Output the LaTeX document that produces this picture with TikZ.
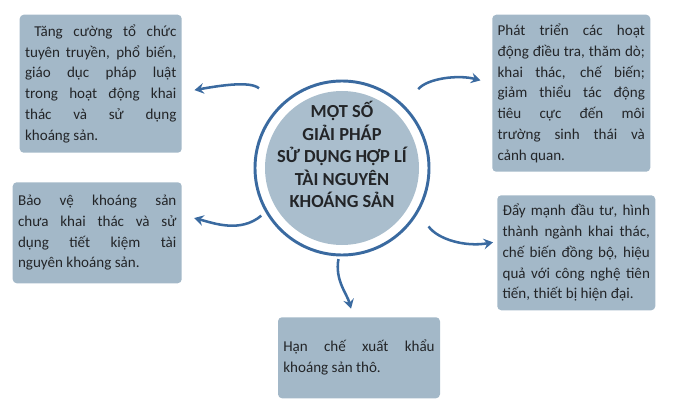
\documentclass[tikz,border=0pt]{standalone}
\usepackage{fontspec}
\setmainfont{Carlito}
\usetikzlibrary{arrows.meta, positioning}

\definecolor{boxfill}{RGB}{163,184,200}
\definecolor{hubfill}{RGB}{170,190,205}
\definecolor{ringblue}{RGB}{58,106,160}
\definecolor{textgray}{RGB}{35,37,40}

\begin{document}
\begin{tikzpicture}[font=\fontsize{11.3}{15.6}\selectfont, text=textgray]

% Styles
        \tikzstyle{box}=[rectangle, fill=boxfill, rounded corners=3pt, inner xsep=4pt, inner ysep=0pt, align=justify]
        \tikzstyle{hub}=[circle, fill=hubfill, minimum size=115.5pt, inner sep=0pt]
        \tikzstyle{ring}=[circle, draw=ringblue, line width=2.2pt, minimum size=130.5pt, inner sep=0pt]
        \tikzstyle{hubtitle}=[align=center, font=\fontsize{13.8}{16.9}\selectfont\bfseries]
        \tikzstyle{arrow}=[-{Stealth[length=7pt, width=8pt, inset=2.5pt]}, draw=ringblue, line width=1.9pt]

        \useasboundingbox (-256.5pt,-179.25pt) rectangle (249pt,126pt);

% Nodes
% Centre
        \node[ring] (ring) at (0,0) {};
        \node[hub] (hub) at (ring.center) {};
        \node[hubtitle] (title) at ([yshift=10pt]hub.center) {MỘT SỐ\\GIẢI PHÁP\\SỬ DỤNG HỢP LÍ\\TÀI NGUYÊN\\KHOÁNG SẢN};

% Top left
        \node[box, above left=11.25pt and 120pt of ring.center, minimum width=121.5pt, minimum height=103.5pt, text width=113.5pt] (tl) {\hspace*{7pt}Tăng cường tổ chức\linebreak tuyên truyền, phổ biến,\linebreak giáo dục pháp luật\linebreak trong hoạt động khai\linebreak thác và sử dụng\linebreak khoáng sản.};

% Top right
        \node[box, above right=-3pt and 112.5pt of ring.center, minimum width=118.5pt, minimum height=117.75pt, text width=110.5pt] (tr) {Phát triển các hoạt\linebreak động điều tra, thăm dò;\linebreak khai thác, chế biến;\linebreak giảm thiểu tác động\linebreak tiêu cực đến môi\linebreak trường sinh thái và\linebreak cảnh quan.};

% Middle left
        \node[box, below left=10.5pt and 120pt of ring.center, minimum width=126.75pt, minimum height=75.75pt, text width=118.75pt] (ml) {Bảo vệ khoáng sản\linebreak chưa khai thác và sử\linebreak dụng tiết kiệm tài\linebreak nguyên khoáng sản.};

% Middle right
        \node[box, below right=20.25pt and 116.25pt of ring.center, minimum width=118.5pt, minimum height=86.25pt, text width=110.5pt] (mr) {Đẩy mạnh đầu tư, hình\linebreak thành ngành khai thác,\linebreak chế biến đồng bộ, hiệu\linebreak quả với công nghệ tiên\linebreak tiến, thiết bị hiện đại.};

% Bottom
        \node[box, below=111.75pt of ring.center, xshift=12.75pt, minimum width=121.5pt, minimum height=60.75pt, text width=113.5pt] (bt) {Hạn chế xuất khẩu\linebreak khoáng sản thô.};

% Connections
        \draw[arrow, shorten <=20pt, shorten >=9.5pt] (ring.135) to[out=140, in=10] (tl.-6);
        \draw[arrow, shorten <=16pt, shorten >=9pt] (ring.45) to[out=50, in=165] (tr.173);
        \draw[arrow, shorten <=4pt, shorten >=9.5pt] (ring.210) to[out=220, in=-15] (ml.12);
        \draw[arrow, shorten <=13pt, shorten >=3pt] (ring.-30) to[out=-55, in=190] (mr.172);
        \draw[arrow, shorten <=2pt, shorten >=6.5pt] (ring.-92) to[out=-100, in=105] (bt.98);

    \end{tikzpicture}
\end{document}
